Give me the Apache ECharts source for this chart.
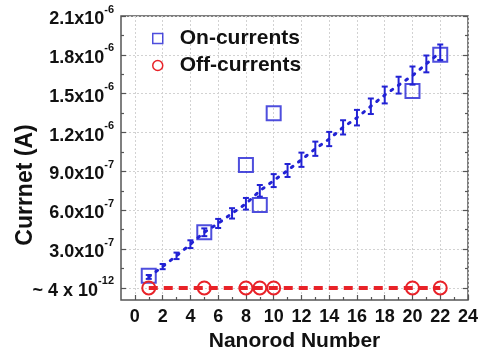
<!DOCTYPE html>
<html>
<head>
	<meta charset="utf-8">
	<title>Nanorod currents</title>
	<script src="https://cdn.jsdelivr.net/npm/echarts@6/dist/echarts.min.js"></script>
	<style type="text/css">
		html,body{ margin:0; padding:0; background:#fff; }
		#main{ width:480px; height:354px; }
	</style>
</head>
<body>
<div id="main"></div>
<script>
    // values in units of 1e-7 A
    // big squares: measured on-currents of single devices
    var onX = [1, 5, 8, 9, 10, 20, 22];
    var onY = [0.95, 4.3, 9.5, 6.4, 13.5, 15.2, 18.0];
    // off-currents (~4e-12 A, i.e. 0 on this scale)
    var offX = [1, 5, 8, 9, 10, 20, 22];
    var offY = [0, 0, 0, 0, 0, 0, 0];
    // mean line with error bars
    var meanX = [1, 2, 3, 4, 5, 6, 7, 8, 9, 10, 11, 12, 13, 14, 15, 16, 17, 18, 19, 20, 21, 22];
    var meanY = [0.85, 1.65, 2.48, 3.38, 4.3, 4.98, 5.76, 6.5, 7.5, 8.29, 9.07, 9.9, 10.75, 11.5, 12.4, 13.15, 14.03, 14.9, 15.66, 16.4, 17.3, 18.2];
    var meanErr = [0.15, 0.2, 0.25, 0.3, 0.3, 0.35, 0.4, 0.45, 0.45, 0.5, 0.5, 0.55, 0.55, 0.55, 0.55, 0.6, 0.6, 0.65, 0.65, 0.7, 0.65, 0.6];

    // tick labels
    var xTicks = [0, 2, 4, 6, 8, 10, 12, 14, 16, 18, 20, 22, 24];
    var xMinorTicks = [1, 3, 5, 7, 9, 11, 13, 15, 17, 19, 21, 23];
    var yTicks = [0, 3, 6, 9, 12, 15, 18, 21];
    var yMinorTicks = [1.5, 4.5, 7.5, 10.5, 13.5, 16.5, 19.5];
    var yTickMant = ['~ 4 x 10', '3.0x10', '6.0x10', '9.0x10', '1.2x10', '1.5x10', '1.8x10', '2.1x10'];
    var yTickExp = ['-12', '-7', '-7', '-7', '-6', '-6', '-6', '-6'];

    var BLUE = '#2222d4';
    var RED = '#e82228';
    var FONT = '"Liberation Sans", Arial, sans-serif';

    function pairs(xs, ys) {
        var out = [];
        for (var i = 0; i < xs.length; i++) {
            out.push([xs[i], ys[i]]);
        }
        return out;
    }

    var errData = [];
    for (var i = 0; i < meanX.length; i++) {
        errData.push([meanX[i], meanY[i] - meanErr[i], meanY[i] + meanErr[i]]);
    }

    var gridLine = { show: true, lineStyle: { color: '#d2d2d2', type: [2, 2], width: 1 } };

    function xAxisOf(ticks, len, withLabels) {
        return {
            type: 'value', min: -1, max: 24, position: 'bottom',
            axisLine: { show: false, onZero: false },
            axisTick: { show: true, inside: true, length: len, customValues: ticks, lineStyle: { color: '#555', width: 1.2 } },
            axisLabel: withLabels ? {
                show: true, customValues: ticks, margin: 8,
                fontSize: 18, fontWeight: 'bold', fontFamily: FONT, color: '#111'
            } : { show: false },
            splitLine: withLabels ? gridLine : { show: false },
            name: withLabels ? 'Nanorod Number' : '',
            nameLocation: 'middle', nameGap: 31, nameMoveOverlap: false,
            nameTextStyle: { fontSize: 21, fontWeight: 'bold', fontFamily: FONT, color: '#111' }
        };
    }

    function yAxisOf(ticks, len, pos, withLabels) {
        return {
            type: 'value', min: -0.93, max: 21, position: pos,
            axisLine: { show: false, onZero: false },
            axisTick: { show: true, inside: true, length: len, customValues: ticks, lineStyle: { color: '#555', width: 1.2 } },
            axisLabel: withLabels ? {
                show: true, customValues: ticks, margin: 7,
                formatter: function (v) {
                    var k = yTicks.indexOf(Math.round(v * 10) / 10);
                    if (k < 0) return '';
                    return '{m|' + yTickMant[k] + '}{s|' + yTickExp[k] + '}';
                },
                rich: {
                    m: { fontSize: 18, fontWeight: 'bold', fontFamily: FONT, color: '#111', lineHeight: 24, verticalAlign: 'bottom' },
                    s: { fontSize: 11, fontWeight: 'bold', fontFamily: FONT, color: '#111', lineHeight: 24, verticalAlign: 'top' }
                }
            } : { show: false },
            splitLine: withLabels ? gridLine : { show: false },
            name: withLabels ? 'Currnet (A)' : '',
            nameLocation: 'middle', nameGap: 84, nameMoveOverlap: false,
            nameTextStyle: { fontSize: 23, fontWeight: 'bold', fontFamily: FONT, color: '#111', padding: [0, 54, 0, 0] }
        };
    }

    var myChart = echarts.init(document.getElementById('main'));
    var option = {
        animation: false,
        backgroundColor: '#fff',
        grid: {
            left: 121, right: 12, top: 16, bottom: 54, outerBoundsMode: 'none', containLabel: false,
            show: true, borderColor: '#555', borderWidth: 1.5
        },
        legend: {
            orient: 'vertical', left: 147, top: 23, itemGap: 6,
            itemWidth: 10, itemHeight: 10,
            textStyle: { fontSize: 21, fontWeight: 'bold', fontFamily: FONT, color: '#111', padding: [0, 0, 0, 12] },
            data: [
                { name: 'On-currents', icon: 'rect', itemStyle: { color: 'transparent', borderColor: BLUE, borderWidth: 1.5 } },
                { name: 'Off-currents', icon: 'circle', itemStyle: { color: 'transparent', borderColor: RED, borderWidth: 1.5 } }
            ]
        },
        xAxis: [
            xAxisOf(xTicks, 5, true),
            xAxisOf(xMinorTicks, 3, false)
        ],
        yAxis: [
            yAxisOf(yTicks, 5, 'left', true),
            yAxisOf(yMinorTicks, 3, 'left', false),
            yAxisOf(yTicks, 5, 'right', false),
            yAxisOf(yMinorTicks, 3, 'right', false)
        ],
        series: [
            {
                name: 'mean',
                type: 'line',
                data: pairs(meanX, meanY),
                showSymbol: false,
                lineStyle: { color: BLUE, width: 3, type: [2, 7], cap: 'round' },
                z: 2
            },
            {
                name: 'error',
                type: 'custom',
                data: errData,
                encode: { x: 0, y: [1, 2] },
                renderItem: function (params, api) {
                    var x = api.value(0);
                    var top = api.coord([x, api.value(2)]);
                    var bot = api.coord([x, api.value(1)]);
                    var w = 3;
                    var st = { stroke: BLUE, lineWidth: 2 };
                    return {
                        type: 'group',
                        children: [
                            { type: 'line', shape: { x1: top[0], y1: top[1], x2: bot[0], y2: bot[1] }, style: st },
                            { type: 'line', shape: { x1: top[0] - w, y1: top[1], x2: top[0] + w, y2: top[1] }, style: st },
                            { type: 'line', shape: { x1: bot[0] - w, y1: bot[1], x2: bot[0] + w, y2: bot[1] }, style: st }
                        ]
                    };
                },
                z: 3
            },
            {
                name: 'On-currents',
                type: 'scatter',
                data: pairs(onX, onY),
                symbol: 'rect',
                symbolSize: 14,
                itemStyle: { color: 'transparent', borderColor: BLUE, borderWidth: 2 },
                z: 4
            },
            {
                name: 'Off-currents',
                type: 'line',
                data: pairs(offX, offY),
                symbol: 'circle',
                symbolSize: 13,
                showAllSymbol: true,
                itemStyle: { color: 'transparent', borderColor: RED, borderWidth: 2 },
                lineStyle: { color: RED, width: 4, type: [9, 6] },
                z: 5
            }
        ]
    };
    myChart.setOption(option);
</script>
</body>
</html>
